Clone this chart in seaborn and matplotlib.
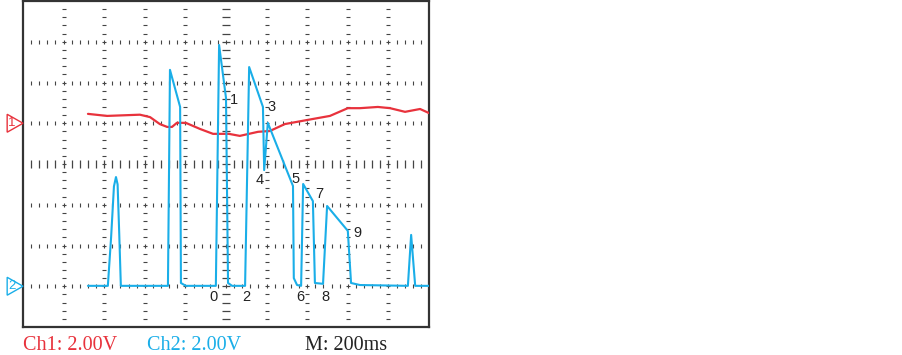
import matplotlib
matplotlib.use("Agg")
import matplotlib.pyplot as plt
import seaborn as sns
import numpy as np
import pandas as pd
from matplotlib.patches import Polygon

sns.set_theme(style="white")
plt.rcParams['font.family'] = ['Liberation Sans', 'DejaVu Sans']

RED = '#e8323c'
BLUE = '#1aaee8'
GRID = '#444444'

# Channel 1 trace (divisions)
ch1_t = [1.60, 2.07, 2.88, 3.13, 3.37, 3.55, 3.67, 3.79, 4.01, 4.36, 4.68, 5.07, 5.34,
         5.79, 6.08, 6.45, 7.00, 7.56, 8.00, 8.30, 8.74, 9.04, 9.41, 9.78, 10.0]
ch1_v = [5.23, 5.18, 5.21, 5.15, 4.98, 4.91, 4.91, 5.01, 5.01, 4.86, 4.74, 4.74, 4.69,
         4.79, 4.81, 4.98, 5.08, 5.18, 5.37, 5.37, 5.40, 5.37, 5.28, 5.35, 5.25]

# Channel 2 trace (divisions)
ch2_t = [1.60, 2.09, 2.17, 2.24, 2.29, 2.33, 2.37, 2.41, 3.57, 3.62, 3.87, 3.89, 4.01,
         4.75, 4.83, 5.00, 5.05, 5.15, 5.47, 5.57, 5.91, 5.94, 6.03, 6.65, 6.67, 6.75,
         6.85, 6.90, 7.14, 7.19, 7.39, 7.49, 8.00, 8.08, 8.30, 9.48, 9.56, 9.66, 10.0]
ch2_v = [1.01, 1.01, 2.20, 3.45, 3.68, 3.50, 2.30, 1.01, 1.01, 6.31, 5.40, 1.08, 1.01,
         1.01, 6.92, 5.62, 1.08, 1.01, 1.01, 6.38, 5.40, 3.85, 5.01, 3.46, 1.20, 1.03,
         1.01, 3.51, 3.09, 1.08, 1.06, 2.97, 2.36, 1.08, 1.03, 1.01, 2.26, 1.01, 1.01]

# Annotation numbers
lab_text = ['1', '3', '4', '5', '7', '9', '0', '2', '6', '8']
lab_x = [5.19, 6.13, 5.84, 6.72, 7.29, 8.23, 4.68, 5.49, 6.82, 7.44]
lab_y = [5.57, 5.40, 3.60, 3.63, 3.26, 2.31, 0.74, 0.74, 0.74, 0.74]

W, H = 902, 355
fig = plt.figure(figsize=(W / 100, H / 100), dpi=100)
L, R, T, B = 23, 429, 1, 327
ax = fig.add_axes([L / W, 1 - B / H, (R - L) / W, (B - T) / H])
ax.set_xlim(0, 10)
ax.set_ylim(0, 8)
ax.set_xticks([])
ax.set_yticks([])
for s in ax.spines.values():
    s.set_color('#333333')
    s.set_linewidth(1.6)

# Graticule
fine_x = np.round(np.arange(1, 50) * 0.2, 3)
fine_y = np.round(np.arange(1, 40) * 0.2, 3)
for yv in range(1, 8):
    big = (yv == 4)
    ax.plot(fine_x, np.full_like(fine_x, yv), ls='none', marker='|',
            ms=5.8 if big else 2.9, mew=0.9 if big else 0.8, color=GRID, zorder=1)
for xv in range(1, 10):
    big = (xv == 5)
    ax.plot(np.full_like(fine_y, xv), fine_y, ls='none', marker='_',
            ms=5.4 if big else 2.9, mew=0.9 if big else 0.8, color=GRID, zorder=1)

df1 = pd.DataFrame({'t': ch1_t, 'v': ch1_v})
df2 = pd.DataFrame({'t': ch2_t, 'v': ch2_v})
sns.lineplot(data=df1, x='t', y='v', ax=ax, color=RED, lw=1.6, sort=False,
             estimator=None, zorder=3)
sns.lineplot(data=df2, x='t', y='v', ax=ax, color=BLUE, lw=1.5, sort=False,
             estimator=None, zorder=4)
ax.set_xlabel('')
ax.set_ylabel('')

for t, x, y in zip(lab_text, lab_x, lab_y):
    ax.text(x, y, t, fontsize=10.5, ha='center', va='center', color='#222222', zorder=5)

# Channel markers
for yc, col, txt in [(5.0, RED, '1'), (1.0, BLUE, '2')]:
    tri = Polygon([[-0.39, yc + 0.22], [-0.39, yc - 0.22], [0.0, yc]], closed=True,
                  fill=False, edgecolor=col, lw=1.0, clip_on=False, zorder=6)
    ax.add_patch(tri)
    ax.text(-0.27, yc, txt, color=col, fontsize=9.5, ha='center', va='center', clip_on=False)

serif = ['Liberation Serif', 'DejaVu Serif']
yb = (H - 350) / H
fig.text(23 / W, yb, 'Ch1: 2.00V', color=RED, fontsize=14.5, family=serif, va='baseline')
fig.text(147 / W, yb, 'Ch2: 2.00V', color=BLUE, fontsize=14.5, family=serif, va='baseline')
fig.text(305 / W, yb, 'M: 200ms', color='#222222', fontsize=14.5, family=serif, va='baseline')

fig.savefig('out.png', dpi=100, facecolor='white')
